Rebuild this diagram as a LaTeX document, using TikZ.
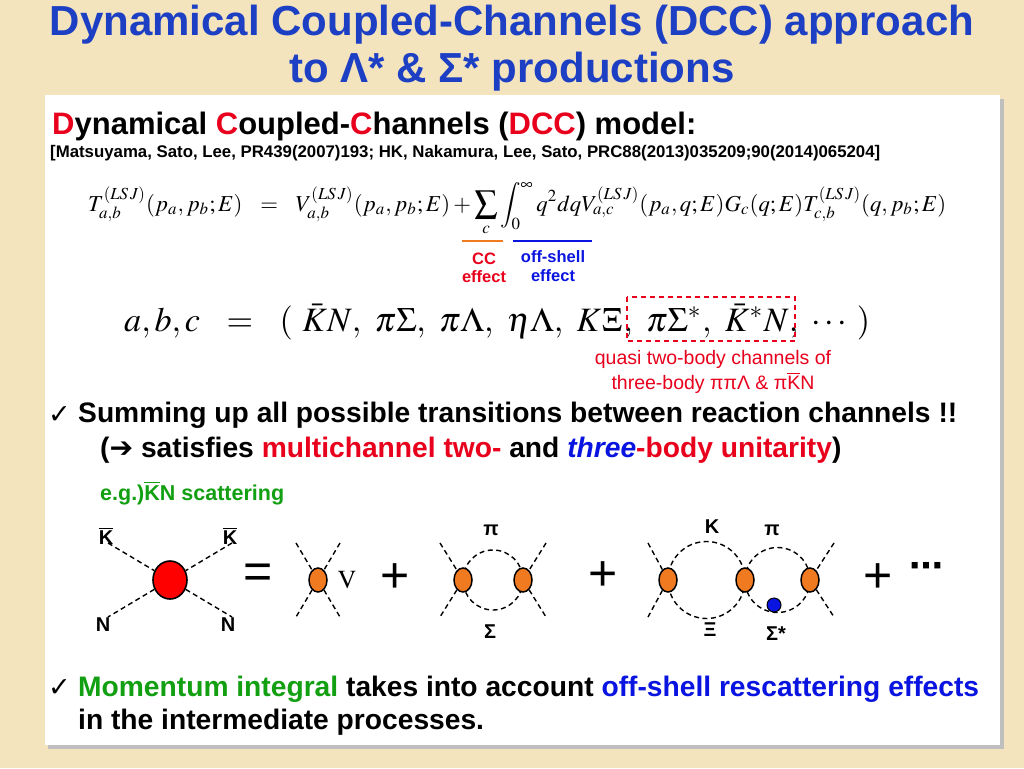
\documentclass[tikz,border=0pt]{standalone}
\usepackage{mathptmx}
\usepackage[no-math]{fontspec}
\setmainfont{Liberation Sans}
\newfontfamily\djv{DejaVu Sans}
\usepackage{graphicx}
\usetikzlibrary{shapes.geometric}
\definecolor{ttl}{HTML}{1C3FC4}
\definecolor{rd}{HTML}{E8001C}
\definecolor{gr}{HTML}{12A012}
\definecolor{bl}{HTML}{0A14E0}
\definecolor{org}{HTML}{F07A20}
\definecolor{bg}{HTML}{F4E4BE}
\newcommand{\kb}{$\overline{\mbox{K}}$}
\newcommand{\fs}[1]{\fontsize{#1}{#1}\selectfont}
\begin{document}
\begin{tikzpicture}[x=1pt,y=-1pt,
  txt/.style={inner sep=0,anchor=west,font=\bfseries},
  leg/.style={dashed,line width=1.4pt,dash pattern=on 5pt off 3.5pt},
  blob/.style={draw,line width=1.5pt,fill=org,ellipse,minimum width=18pt,minimum height=24pt,inner sep=0},
  plab/.style={font=\bfseries\fs{20}},
  bigop/.style={font=\fs{50}}]
\useasboundingbox (0,0) rectangle (1024,768);
\fill[bg] (0,0) rectangle (1024,768);
\fill[black!25] (48,99) rectangle (1004,749);
\fill[white] (45,95) rectangle (1000,745);
\node[font=\bfseries\fs{42},text=ttl] (t1) at (512,25) {Dynamical Coupled-Channels (DCC) approach};
\node[font=\bfseries\fs{42},text=ttl] (t2) at (512,72) {to Λ* \& Σ* productions};
\node[txt,font=\bfseries\fs{31}] (h) at (52,126) {{\color{rd}D}ynamical {\color{rd}C}oupled-{\color{rd}C}hannels ({\color{rd}DCC}) model:};
\node[txt,font=\bfseries\fs{16.8}] (ref) at (50,153) {[Matsuyama, Sato, Lee, PR439(2007)193; HK, Nakamura, Lee, Sato, PRC88(2013)035209;90(2014)065204]};
\node[inner sep=0,anchor=west] (eq) at (88,209) {\resizebox{858pt}{!}{$\displaystyle T^{(LS\,J)}_{a,b}(p_a,p_b;E)\ \ =\ \ V^{(LS\,J)}_{a,b}(p_a,p_b;E)+\sum_{c}\int_0^\infty q^2dqV^{(LS\,J)}_{a,c}(p_a,q;E)G_c(q;E)T^{(LS\,J)}_{c,b}(q,p_b;E)$}};
\draw[org,line width=1.5pt] (462,241) -- (503,241);
\draw[bl,line width=1.5pt] (513,241) -- (592,241);
\node[font=\bfseries\fs{16.5},text=rd,align=center] (cc) at (484,268) {CC\\[2pt]effect};
\node[font=\bfseries\fs{16.5},text=bl,align=center] (os) at (553,266) {off-shell\\[2pt]effect};
\node[inner sep=0,anchor=west] (abc) at (124,322) {\resizebox{746pt}{!}{$a,b,c\ \ =\ \ (\ \bar KN,\ \pi\Sigma,\ \pi\Lambda,\ \eta\Lambda,\ K\Xi,\ \pi\Sigma^*,\ \bar K^*N,\ \cdots\ )$}};
\draw[rd,dashed,line width=1.2pt,dash pattern=on 5pt off 4pt] (627,297) rectangle (795,341);
\node[font=\fs{19.5},text=rd,align=center] (q) at (713,372) {quasi two-body channels of\\[3pt]three-body ππΛ \& π\kb N};
\node[txt,font=\djv\fs{27}] (c1) at (48,415) {✓};
\node[txt,font=\bfseries\fs{28.2}] (s1) at (78,415) {Summing up all possible transitions between reaction channels !!};
\node[txt,font=\bfseries\fs{28.2}] (s2) at (100,450) {({\djv➔} satisfies {\color{rd}multichannel two-} and {\color{bl}\itshape three}{\color{rd}-body unitarity})};
\node[txt,font=\bfseries\fs{21.5},text=gr] (eg) at (100,493) {e.g.)\kb N scattering};
% diagram 1
\coordinate (a1) at (108,543); \coordinate (a2) at (232,543);
\coordinate (a3) at (108,617); \coordinate (a4) at (232,617);
\node[draw,line width=1.6pt,fill=red,ellipse,minimum width=34pt,minimum height=38pt,inner sep=0] (R) at (170,580) {};
\draw[leg] (a1) -- (R) -- (a4); \draw[leg] (a2) -- (R) -- (a3);
\node[plab] (k1) at (106,536) {\kb}; \node[plab] (k2) at (230,536) {\kb};
\node[plab] (n1) at (103,625) {N}; \node[plab] (n2) at (228,625) {N};
\node[bigop] (eqs) at (258,576) {=};
% diagram 2
\node[blob] (V) at (318,580) {};
\coordinate (b1) at (296,543); \coordinate (b2) at (340,543);
\coordinate (b3) at (296,617); \coordinate (b4) at (340,617);
\draw[leg] (b1) -- (V) -- (b4); \draw[leg] (b2) -- (V) -- (b3);
\node[font=\fs{26}] (vl) at (347,580) {$\mathrm V$};
\node[bigop] (p1) at (395,578) {+};
% diagram 3
\draw[leg] (493,580) circle (30);
\node[blob] (L1) at (463,580) {}; \node[blob] (L2) at (523,580) {};
\coordinate (c1a) at (440,543); \coordinate (c1b) at (440,617);
\coordinate (c2a) at (546,543); \coordinate (c2b) at (546,617);
\draw[leg] (c1a) -- (L1) -- (c1b); \draw[leg] (c2a) -- (L2) -- (c2b);
\node[plab] (pi1) at (491,530) {π}; \node[plab] (sg1) at (490,632) {Σ};
\node[bigop] (p2) at (603,576) {+};
% diagram 4
\draw[leg] (706.5,580) circle (38.5);
\draw[leg] (777.5,580) circle (32.5);
\node[blob] (M1) at (668,580) {}; \node[blob] (M2) at (745,580) {}; \node[blob] (M3) at (810,580) {};
\node[draw,line width=1pt,fill=bl,circle,minimum size=14pt,inner sep=0] (S) at (774,605) {};
\coordinate (d1a) at (648,543); \coordinate (d1b) at (648,617);
\coordinate (d2a) at (834,543); \coordinate (d2b) at (834,617);
\draw[leg] (d1a) -- (M1) -- (d1b); \draw[leg] (d2a) -- (M3) -- (d2b);
\node[plab] (kk) at (712,527) {K}; \node[plab] (pi2) at (772,530) {π};
\node[plab] (xi) at (710,630) {Ξ}; \node[plab] (sg2) at (776,634) {Σ*};
\node[bigop] (p3) at (878,578) {+};
\node[font=\djv\bfseries\fs{34}] (dots) at (926,570) {⋯};
\node[txt,font=\djv\fs{27}] (c2) at (48,688) {✓};
\node[txt,font=\bfseries\fs{28.2}] (m1) at (78,689) {{\color{gr}Momentum integral} takes into account {\color{bl}off-shell rescattering effects}};
\node[txt,font=\bfseries\fs{28.2}] (m2) at (78,722) {in the intermediate processes.};
\end{tikzpicture}
\end{document}
